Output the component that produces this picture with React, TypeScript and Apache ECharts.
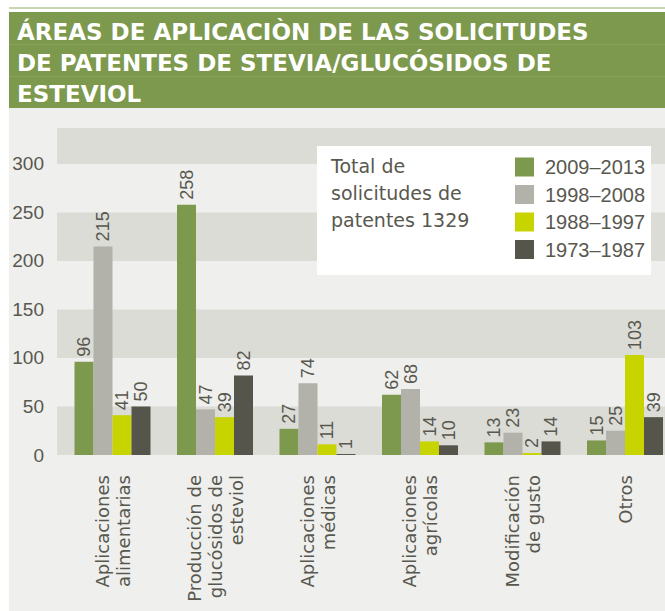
import React, { useEffect, useRef } from "react";
import * as echarts from "echarts";

const titleLines = [
  "ÁREAS DE APLICACIÒN DE LAS SOLICITUDES",
  "DE PATENTES DE STEVIA/GLUCÓSIDOS DE",
  "ESTEVIOL",
];
const categories = [
  "Aplicaciones\nalimentarias",
  "Producción de\nglucósidos de\nesteviol",
  "Aplicaciones\nmédicas",
  "Aplicaciones\nagrícolas",
  "Modificación\nde gusto",
  "Otros",
];
const periods = ["2009–2013", "1998–2008", "1988–1997", "1973–1987"];
const s2009_2013 = [96, 258, 27, 62, 13, 15];
const s1998_2008 = [215, 47, 74, 68, 23, 25];
const s1988_1997 = [41, 39, 11, 14, 2, 103];
const s1973_1987 = [50, 82, 1, 10, 14, 39];
const seriesValues = [s2009_2013, s1998_2008, s1988_1997, s1973_1987];
const totalText = "Total de\nsolicitudes de\npatentes 1329";

const colors = ["#7d994d", "#b2b1aa", "#c8d400", "#55554c"];
const textColor = "#58584f";

export default function App() {
  const ref = useRef<HTMLDivElement>(null);
  useEffect(() => {
    if (!ref.current) return;
    const chart = echarts.init(ref.current, undefined, { renderer: "svg" });
    const option: any = {
      animation: false,
      backgroundColor: "transparent",
      grid: [
        { left: 57, width: 608, top: 128, bottom: 156 },
        { left: 61.25, width: 615, top: 128, bottom: 156 },
      ],
      xAxis: [
        { gridIndex: 0, type: "category", data: categories, show: false },
        {
          gridIndex: 1,
          type: "category",
          data: categories,
          axisLine: { show: false },
          axisTick: { show: false },
          axisLabel: {
            interval: 0,
            rotate: 90,
            margin: 20,
            fontSize: 18,
            lineHeight: 21,
            fontFamily: "DejaVu Sans",
            color: textColor,
          },
        },
      ],
      yAxis: [
        {
          gridIndex: 0,
          type: "value",
          min: 0,
          max: 337,
          interval: 50,
          axisLine: { show: false },
          axisTick: { show: false },
          splitLine: { show: false },
          splitArea: {
            show: true,
            areaStyle: { color: ["#dcdcd7", "rgba(0,0,0,0)"] },
          },
          axisLabel: {
            showMaxLabel: false,
            margin: 13,
            fontSize: 19,
            fontFamily: "Liberation Sans",
            color: textColor,
          },
        },
        {
          gridIndex: 1,
          type: "value",
          min: 0,
          max: 337,
          interval: 50,
          show: false,
          splitLine: { show: false },
        },
      ],
      legend: {
        orient: "vertical",
        left: 510,
        top: 152,
        itemWidth: 19,
        itemHeight: 19,
        itemGap: 7.5,
        icon: "rect",
        data: periods,
        textStyle: {
          fontSize: 20,
          fontFamily: "Liberation Sans",
          color: textColor,
          padding: [0, 0, 0, 6],
        },
      },
      series: periods.map((name, i) => ({
        name,
        type: "bar",
        xAxisIndex: 1,
        yAxisIndex: 1,
        data: seriesValues[i],
        barWidth: 19,
        barGap: "0%",
        itemStyle: { color: colors[i] },
        label: {
          show: true,
          position: "top",
          rotate: 90,
          align: "left",
          verticalAlign: "middle",
          distance: 5,
          fontSize: 18,
          fontFamily: "Liberation Sans",
          color: textColor,
        },
      })),
      graphic: [
        { type: "rect", shape: { x: 9, y: 7, width: 656, height: 2 }, style: { fill: "#c8d5b2" } },
        { type: "rect", shape: { x: 9, y: 12, width: 656, height: 96 }, style: { fill: "#7d994d" } },
        { type: "line", shape: { x1: 9, y1: 44.5, x2: 665, y2: 44.5 }, style: { stroke: "#89a35c", lineWidth: 1 } },
        { type: "line", shape: { x1: 9, y1: 76.5, x2: 665, y2: 76.5 }, style: { stroke: "#89a35c", lineWidth: 1 } },
        ...titleLines.map((t, i) => ({
          type: "text",
          x: 17,
          y: 32 + i * 31,
          z: 5,
          style: {
            text: t,
            fill: "#ffffff",
            fontSize: 23,
            fontWeight: "bold",
            fontFamily: "DejaVu Sans",
            verticalAlign: "middle",
          },
        })),
        {
          type: "rect",
          z: 1,
          shape: { x: 317, y: 146, width: 334, height: 129 },
          style: { fill: "#ffffff" },
        },
        {
          type: "text",
          z: 5,
          x: 331,
          y: 152.5,
          style: {
            text: totalText,
            fill: textColor,
            fontSize: 19,
            lineHeight: 27,
            fontFamily: "DejaVu Sans",
            verticalAlign: "top",
          },
        },
      ],
    };
    chart.setOption(option);
    return () => chart.dispose();
  }, []);
  return (
    <div style={{ position: "absolute", left: 0, top: 0, width: 665, height: 611, background: "#ffffff", overflow: "hidden" }}>
      <div style={{ position: "absolute", left: 9, top: 108, width: 656, height: 503, background: "#efefed" }} />
      <div ref={ref} style={{ position: "absolute", left: 0, top: 0, width: 680, height: 611 }} />
    </div>
  );
}
